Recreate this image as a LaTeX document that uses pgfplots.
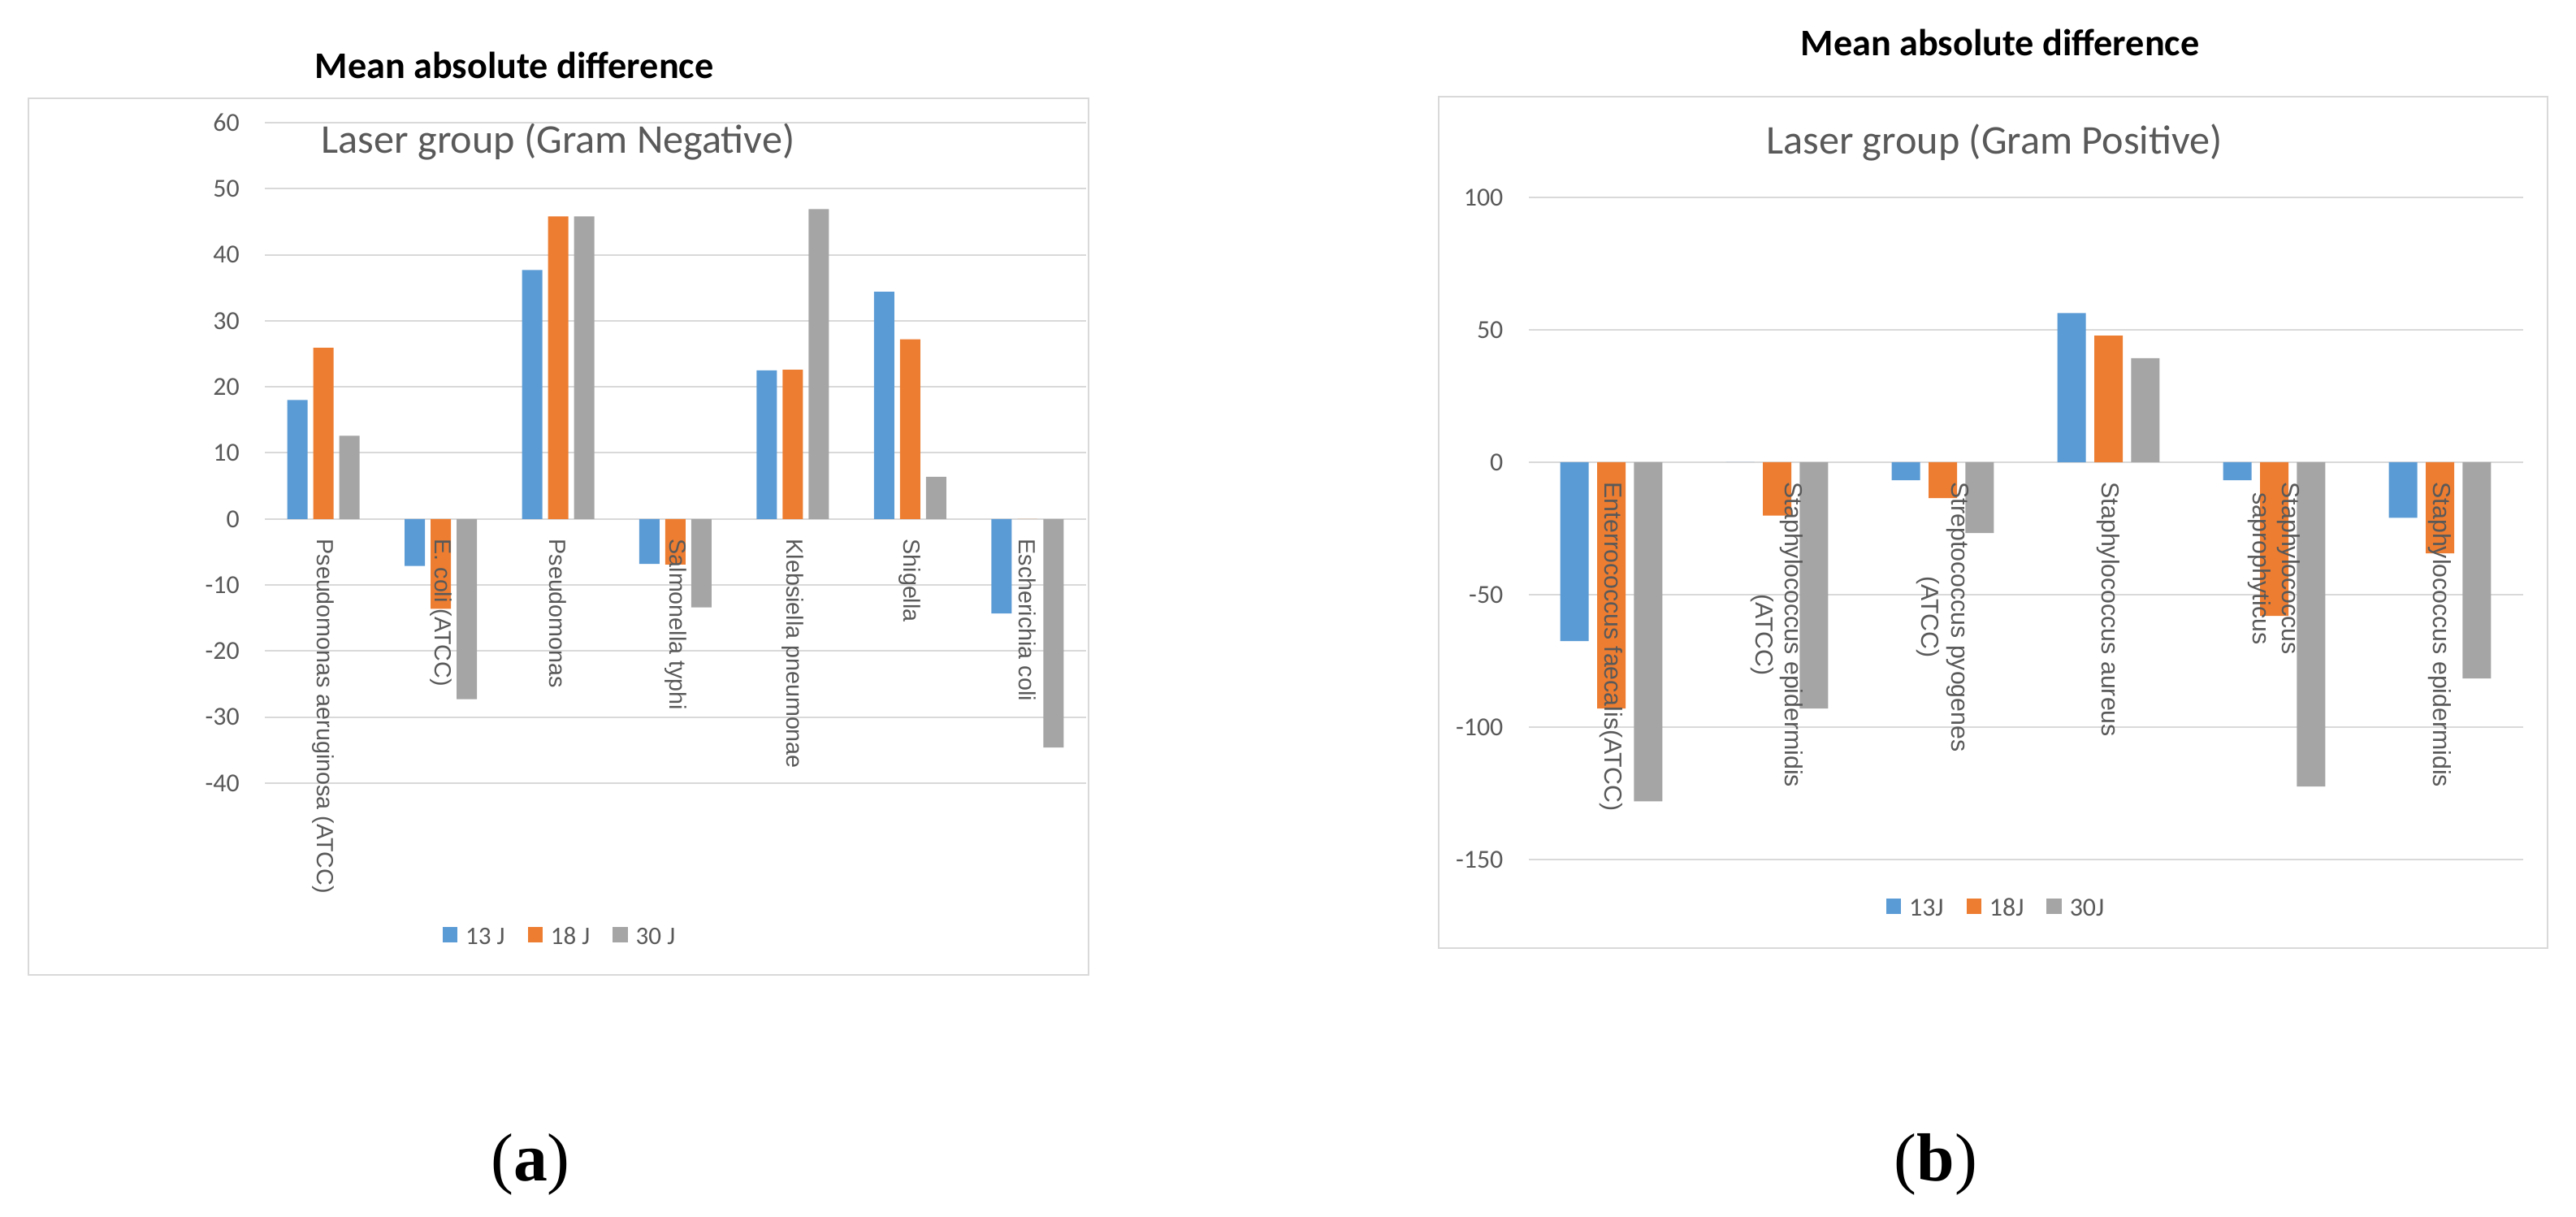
\documentclass[border=0pt]{standalone}
\usepackage{fontspec}
\setmainfont{Carlito}
\newfontfamily\labfont{Liberation Sans}
\newfontfamily\capfont{Liberation Serif}
\usepackage{pgfplots}
\pgfplotsset{compat=1.18}

\definecolor{c13}{HTML}{5B9BD5}
\definecolor{c18}{HTML}{ED7D31}
\definecolor{c30}{HTML}{A5A5A5}
\definecolor{gridgray}{HTML}{D9D9D9}
\definecolor{txtgray}{HTML}{595959}

\pgfplotsset{
  sqlegend/.style={legend image code/.code={\fill[##1] (0bp,-1.2bp) rectangle (4.6bp,3.6bp);}},
  excelbars/.style={
    scale only axis,
    anchor=south west,
    axis x line*=middle,
    axis y line*=left,
    axis line style={draw=none},
    tick style={draw=none},
    major tick length=0pt,
    hide obscured x ticks=false,
    hide obscured y ticks=false,
    ymajorgrids,
    grid style={gridgray, line width=0.5bp},
    enlargelimits=false,
    ticklabel style={text=txtgray},
    yticklabel style={font=\fontsize{8}{9}\selectfont, anchor=east, inner sep=0pt, xshift=-7.6bp},
    xticklabel style={rotate=-90, anchor=west, align=center, inner xsep=6bp, inner ysep=0pt},
    /pgf/number format/assume math mode=true,
    legend columns=3,
    legend style={draw=none, fill=none, text=txtgray,
      /tikz/every even column/.append style={column sep=5bp},
      /tikz/every odd column/.append style={column sep=0.5bp}},
  },
  % second pass over the same frame, so the category names sit on top of the bars
  labelpass/.style={excelbars, ymajorgrids=false, ytick=\empty},
}

\begin{document}
\begin{tikzpicture}
% chart frames
\draw[gridgray, line width=0.7bp] (8.75bp,74.5bp) rectangle (335bp,344.25bp);
\draw[gridgray, line width=0.7bp] (442.75bp,82.75bp) rectangle (784bp,344.75bp);

% titles
\node[anchor=base, font=\bfseries\fontsize{11.6}{13.5}\selectfont] at (158.25bp,350.25bp) {Mean absolute difference};
\node[anchor=base, font=\bfseries\fontsize{11.6}{13.5}\selectfont] at (615.5bp,357.25bp) {Mean absolute difference};
\node[anchor=base, text=txtgray, font=\fontsize{12.6}{15}\selectfont] at (171.75bp,327.25bp) {Laser group (Gram Negative)};
\node[anchor=base, text=txtgray, font=\fontsize{12.6}{15}\selectfont] at (613.75bp,327bp) {Laser group (Gram Positive)};
\node[anchor=base, font=\capfont\fontsize{21}{24}\selectfont] at (163.25bp,11.25bp) {(\textbf{a})};
\node[anchor=base, font=\capfont\fontsize{21}{24}\selectfont] at (595.75bp,11.25bp) {(\textbf{b})};

% (a) Gram negative
\begin{axis}[excelbars,
  at={(81.5bp,133.5bp)}, width=252.75bp, height=203.25bp,
  xmin=-0.5, xmax=6.5, ymin=-40, ymax=60,
  ytick={-40,-30,...,60}, xtick={0,...,6}, xticklabels={},
  ybar=1.75bp, bar width=6.25bp,
  legend style={at={(0.362,-0.235)}, anchor=center, font=\fontsize{7.8}{9}\selectfont},
]
\addplot[fill=c13, draw=none, sqlegend] coordinates {(0,18.0) (1,-7.1) (2,37.7) (3,-6.8) (4,22.5) (5,34.4) (6,-14.3)};
\addplot[fill=c18, draw=none, sqlegend] coordinates {(0,25.9) (1,-13.6) (2,45.8) (3,-6.9) (4,22.6) (5,27.2) (6,0)};
\addplot[fill=c30, draw=none, sqlegend] coordinates {(0,12.6) (1,-27.3) (2,45.8) (3,-13.4) (4,46.9) (5,6.4) (6,-34.6)};
\legend{13 J, 18 J, 30 J}
\end{axis}
\begin{axis}[labelpass,
  at={(81.5bp,133.5bp)}, width=252.75bp, height=203.25bp,
  xmin=-0.5, xmax=6.5, ymin=-40, ymax=60, xtick={0,...,6},
  xticklabel style={font=\labfont\fontsize{7.2}{8.6}\selectfont},
  xticklabels={Pseudomonas aeruginosa (ATCC), E. coli (ATCC), Pseudomonas, Salmonella typhi, Klebsiella pneumonae, Shigella, Escherichia coli},
]
\end{axis}

% (b) Gram positive
\begin{axis}[excelbars,
  at={(470.375bp,110bp)}, width=306bp, height=203.75bp,
  xmin=-0.5, xmax=5.5, ymin=-150, ymax=100,
  ytick={-150,-100,...,100}, xtick={0,...,5}, xticklabels={},
  ybar=2.6bp, bar width=8.75bp,
  legend style={at={(0.4726,-0.076)}, anchor=center, font=\fontsize{8}{9.5}\selectfont},
]
\addplot[fill=c13, draw=none, sqlegend] coordinates {(0,-67.5) (1,0) (2,-6.8) (3,56.3) (4,-6.8) (5,-21.0)};
\addplot[fill=c18, draw=none, sqlegend] coordinates {(0,-93.0) (1,-20.1) (2,-13.5) (3,47.8) (4,-58.0) (5,-34.4)};
\addplot[fill=c30, draw=none, sqlegend] coordinates {(0,-128.0) (1,-93.0) (2,-26.7) (3,39.3) (4,-122.4) (5,-81.6)};
\legend{13J, 18J, 30J}
\end{axis}
\begin{axis}[labelpass,
  at={(470.375bp,110bp)}, width=306bp, height=203.75bp,
  xmin=-0.5, xmax=5.5, ymin=-150, ymax=100, xtick={0,...,5},
  xticklabel style={font=\labfont\fontsize{7.6}{9.1}\selectfont},
  xticklabels={Enterrococcus faecalis(ATCC), {Staphylococcus epidermidis\\(ATCC)}, {Streptococcus pyogenes\\(ATCC)}, Staphylococcus aureus, {Staphylococcus\\saprophyticus}, Staphylococcus epidermidis},
]
\end{axis}

\pgfresetboundingbox
\path[use as bounding box] (0,0) rectangle (792.75bp,374.5bp);
\end{tikzpicture}
\end{document}
